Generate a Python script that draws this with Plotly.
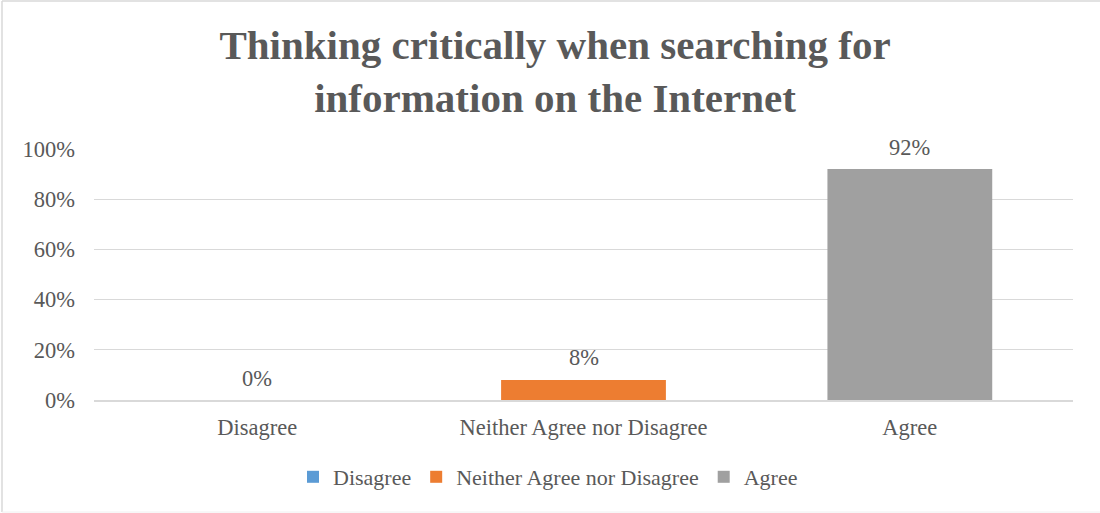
import plotly.graph_objects as go

# Survey responses
categories = ["Disagree", "Neither Agree nor Disagree", "Agree"]
shares = [0.0, 0.08, 0.92]
colors = ["#5b9bd5", "#ed7d31", "#a0a0a0"]
y_ticks = [0, 0.2, 0.4, 0.6, 0.8, 1.0]
y_tick_labels = ["0%", "20%", "40%", "60%", "80%", "100%"]

FONT = "Liberation Serif, Times New Roman, serif"
TEXT = "#595959"

W, H = 1100, 513
L, R, T, B = 94, 27, 149, 113
plot_w, plot_h = W - L - R, H - T - B

fig = go.Figure()
for cat, val, col in zip(categories, shares, colors):
    fig.add_trace(go.Bar(
        x=[cat], y=[val], name=cat, width=0.505,
        marker=dict(color=col, line=dict(width=0)),
        hoverinfo="skip",
    ))
    # value label above each bar
    fig.add_annotation(
        x=cat, y=val, text=f"{round(val * 100)}%", showarrow=False,
        yanchor="middle", yshift=22,
        font=dict(family=FONT, size=22.5, color=TEXT),
    )

# outer chart frame (left, top, bottom edges)
def px_x(p):
    return (p - L) / plot_w

def px_y(p):
    return (H - B - p) / plot_h

fig.add_shape(type="line", xref="paper", yref="paper",
              x0=px_x(2), x1=px_x(2), y0=px_y(1), y1=px_y(512),
              line=dict(color="#d9d9d9", width=1.5))
fig.add_shape(type="line", xref="paper", yref="paper",
              x0=px_x(2), x1=px_x(1100), y0=px_y(1), y1=px_y(1),
              line=dict(color="#d9d9d9", width=1.5))
fig.add_shape(type="line", xref="paper", yref="paper",
              x0=px_x(2), x1=px_x(1100), y0=px_y(512), y1=px_y(512),
              line=dict(color="#f0f0f0", width=1))

fig.update_layout(
    width=W, height=H,
    margin=dict(l=L, r=R, t=T, b=B, autoexpand=False),
    paper_bgcolor="white", plot_bgcolor="white",
    barmode="overlay",
    font=dict(family=FONT, size=22.5, color=TEXT),
    title=dict(
        text="<b>Thinking critically when searching for<br>information on the Internet</b>",
        x=555 / W, xref="container", xanchor="center",
        y=1 - 59 / H, yref="container", yanchor="middle",
        font=dict(family=FONT, size=41, color=TEXT),
    ),
    showlegend=True,
    legend=dict(
        orientation="h", x=548 / W, xref="container", xanchor="center",
        y=1 - 477 / H, yref="container", yanchor="middle",
        font=dict(family=FONT, size=22, color=TEXT),
        itemclick=False, itemdoubleclick=False,
        traceorder="normal",
    ),
    xaxis=dict(
        showgrid=False, showline=True, linecolor="#d9d9d9", linewidth=2,
        ticks="", ticklabelstandoff=6,
        tickfont=dict(family=FONT, size=22.5, color=TEXT),
        fixedrange=True,
    ),
    yaxis=dict(
        range=[0, 1], tickvals=y_ticks, ticktext=y_tick_labels,
        showgrid=True, gridcolor="#d9d9d9", gridwidth=1.3,
        zeroline=False, showline=False, ticks="", ticklabelstandoff=18,
        tickfont=dict(family=FONT, size=22.5, color=TEXT),
        fixedrange=True,
    ),
)

fig.write_html("out.html", config={"displayModeBar": False})
